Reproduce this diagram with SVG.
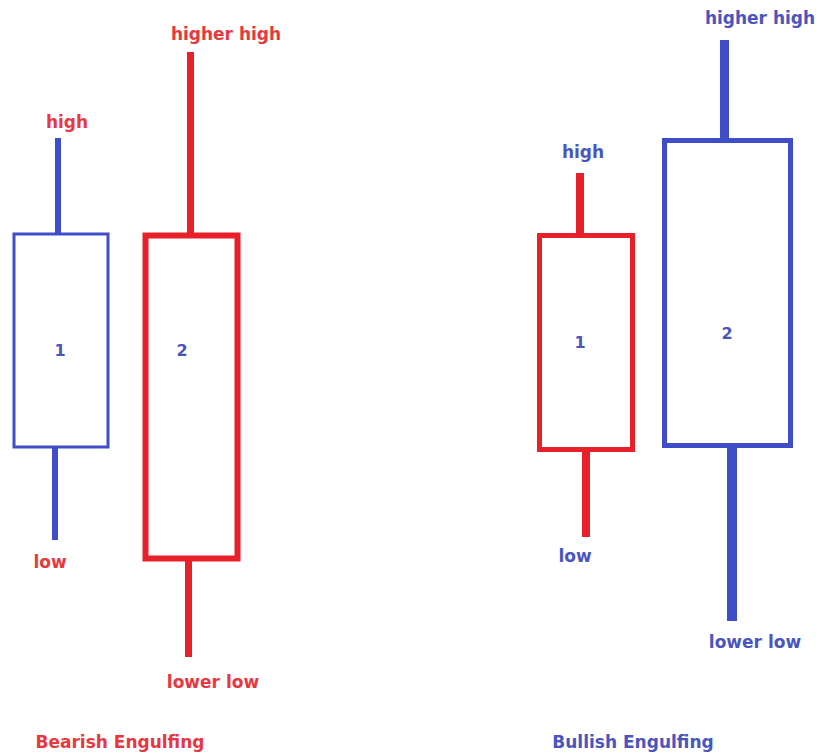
<svg xmlns="http://www.w3.org/2000/svg" width="820" height="754" viewBox="0 0 820 754">
<style>
.red{stroke:#e8202a;fill:none}
.blue{stroke:#3f4dc8;fill:none}
.wr{fill:#e8202a}
.wb{fill:#3f4dc8}
text{font-family:"DejaVu Sans",Verdana,sans-serif;font-weight:bold;font-size:17px;text-anchor:middle}
.tr{fill:#e8383f}
.tb{fill:#4a55c0}
.num{font-size:16px}
</style>
<rect width="820" height="754" fill="#ffffff"/>
<g id="connectors">
<rect class="wb" x="55" y="138" width="6" height="96"/>
<rect class="wb" x="52" y="448" width="6" height="92"/>
<rect class="wr" x="187" y="52" width="7" height="182"/>
<rect class="wr" x="185" y="560" width="7" height="97"/>
<rect class="wr" x="576" y="173" width="8" height="61"/>
<rect class="wr" x="582" y="451" width="8" height="86"/>
<rect class="wb" x="720" y="40" width="9" height="102"/>
<rect class="wb" x="727" y="447" width="10" height="174"/>
</g>
<g id="bear1">
<rect class="blue" x="14" y="234" width="94" height="213" stroke-width="3"/>
<text class="tb num" x="60" y="356">1</text>
</g>
<g id="bear2">
<rect class="red" x="145.5" y="235.5" width="92" height="323" stroke-width="6"/>
<text class="tb num" x="182" y="356">2</text>
</g>
<g id="bull1">
<rect class="red" x="539.5" y="235.5" width="93" height="214" stroke-width="5"/>
<text class="tb num" x="580" y="348">1</text>
</g>
<g id="bull2">
<rect class="blue" x="664.5" y="140.5" width="126" height="305" stroke-width="5"/>
<text class="tb num" x="727" y="339">2</text>
</g>
<g id="labels">
<text class="tr" x="67" y="128">high</text>
<text class="tr" x="226" y="40">higher high</text>
<text class="tr" x="50" y="568">low</text>
<text class="tr" x="213" y="688">lower low</text>
<text class="tr" x="120" y="748">Bearish Engulfing</text>
<text class="tb" x="583" y="158">high</text>
<text class="tb" x="760" y="24">higher high</text>
<text class="tb" x="575" y="562">low</text>
<text class="tb" x="755" y="648">lower low</text>
<text class="tb" x="633" y="748">Bullish Engulfing</text>
</g>
</svg>
